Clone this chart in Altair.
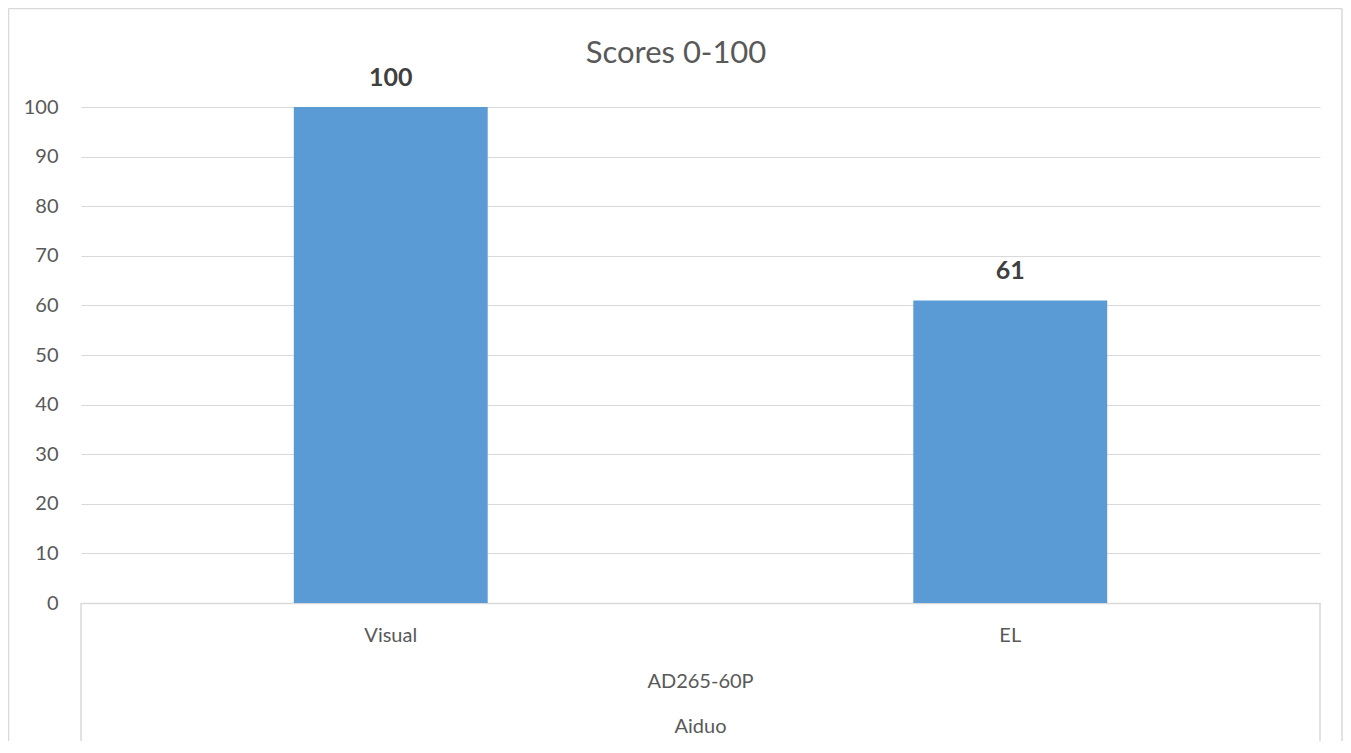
import altair as alt
import pandas as pd

categories = ["Visual", "EL"]
scores = [100, 61]
model_label = ["AD265-60P"]
brand_label = ["Aiduo"]
chart_title = ["Scores 0-100"]
y_ticks = [0, 10, 20, 30, 40, 50, 60, 70, 80, 90, 100]

FONT = "Lato"
GRID = "#d9d9d9"
W, H = 1239, 496

df = pd.DataFrame({"category": categories, "score": scores})

xscale = alt.Scale(domain=categories, paddingInner=0.687, paddingOuter=0.3435)
yscale = alt.Scale(domain=[0, 100], nice=False)

bars = alt.Chart(df).mark_bar(color="#5B9BD5").encode(
    x=alt.X("category:N", scale=xscale, sort=categories,
            axis=alt.Axis(title=None, labels=False, ticks=False, grid=False,
                          domain=True, domainColor=GRID, domainWidth=1.5)),
    y=alt.Y("score:Q", scale=yscale,
            axis=alt.Axis(title=None, values=y_ticks, ticks=False, tickSize=0,
                          domain=False, grid=True, gridColor=GRID, gridWidth=1.2,
                          labelFont=FONT, labelFontSize=20, labelColor="#595959",
                          labelPadding=23)),
)

value_labels = alt.Chart(df).mark_text(
    font=FONT, fontSize=25, fontWeight="bold", color="#404040",
    baseline="alphabetic", dy=-21,
).encode(
    x=alt.X("category:N", scale=xscale, sort=categories),
    y=alt.Y("score:Q", scale=yscale),
    text=alt.Text("score:Q"),
)

cat_labels = alt.Chart(df).mark_text(
    font=FONT, fontSize=20, color="#595959", baseline="alphabetic",
).encode(
    x=alt.X("category:N", scale=xscale, sort=categories),
    y=alt.value(535),
    text="category:N",
)

model_text = alt.Chart(pd.DataFrame({"t": model_label})).mark_text(
    font=FONT, fontSize=20, color="#595959", baseline="alphabetic",
).encode(x=alt.value(W / 2), y=alt.value(581), text="t:N")

brand_text = alt.Chart(pd.DataFrame({"t": brand_label})).mark_text(
    font=FONT, fontSize=20, color="#595959", baseline="alphabetic",
).encode(x=alt.value(W / 2), y=alt.value(626), text="t:N")

title_text = alt.Chart(pd.DataFrame({"t": chart_title})).mark_text(
    font=FONT, fontSize=31, color="#595959", baseline="alphabetic",
).encode(x=alt.value(595), y=alt.value(-44), text="t:N")

one = pd.DataFrame({"a": [0]})
vlines = alt.layer(
    alt.Chart(one).mark_rule(color=GRID, strokeWidth=1.5).encode(
        x=alt.value(0), y=alt.value(H), y2=alt.value(640)),
    alt.Chart(one).mark_rule(color=GRID, strokeWidth=1.5).encode(
        x=alt.value(W), y=alt.value(H), y2=alt.value(640)),
    # outer chart border
    alt.Chart(one).mark_rule(color=GRID, strokeWidth=1.5).encode(
        x=alt.value(-72.5), y=alt.value(-98.5), y2=alt.value(640)),
    alt.Chart(one).mark_rule(color=GRID, strokeWidth=1.5).encode(
        x=alt.value(-72.5), x2=alt.value(1261), y=alt.value(-98.5)),
    alt.Chart(one).mark_rule(color=GRID, strokeWidth=1.5).encode(
        x=alt.value(1261), y=alt.value(-98.5), y2=alt.value(640)),
)

chart = alt.layer(
    bars, value_labels, cat_labels, model_text, brand_text, title_text, vlines
).properties(
    width=W, height=H,
    padding={"left": 73, "top": 99, "right": 23, "bottom": 138},
    autosize=alt.AutoSizeParams(type="none"),
    background="white",
).configure_view(stroke=None)

chart.save("out.html", embed_options={"renderer": "svg", "actions": False})
